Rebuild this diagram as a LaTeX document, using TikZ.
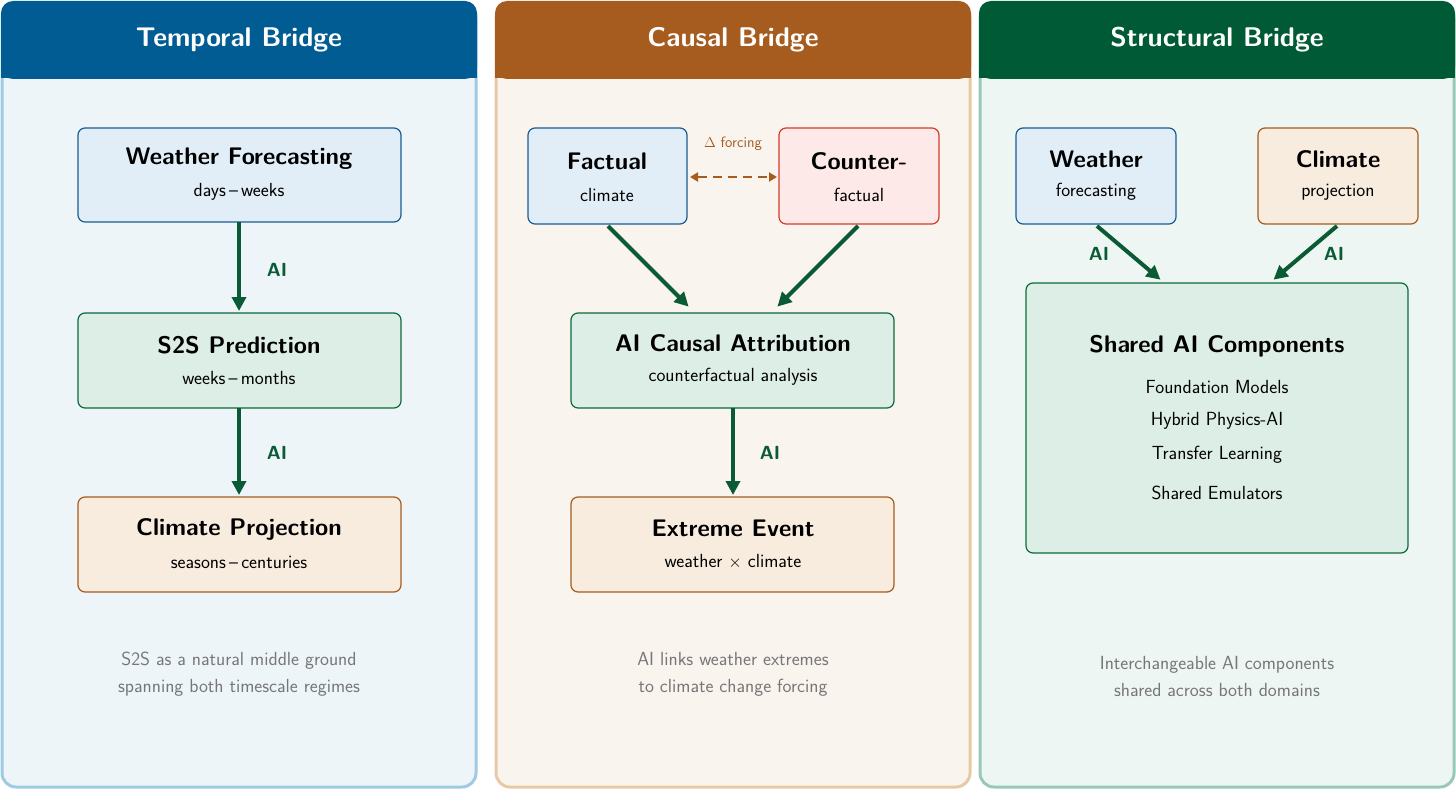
\documentclass[tikz,border=0pt]{standalone}
\usepackage{amsmath}
\usetikzlibrary{arrows.meta}
\definecolor{hb}{HTML}{005C92}\definecolor{hbr}{HTML}{A65C1E}\definecolor{hg}{HTML}{005A35}
\definecolor{pb}{HTML}{EEF5F9}\definecolor{pbb}{HTML}{9ECBE3}
\definecolor{pr}{HTML}{FAF4EF}\definecolor{prb}{HTML}{E8C9A5}
\definecolor{pg}{HTML}{EEF6F3}\definecolor{pgb}{HTML}{99C9B5}
\definecolor{fb}{HTML}{E1EEF7}\definecolor{bb}{HTML}{1A5C92}
\definecolor{fg}{HTML}{DDEEE7}\definecolor{bg}{HTML}{0A6B3A}
\definecolor{fo}{HTML}{F8ECDF}\definecolor{bo}{HTML}{A65C1E}
\definecolor{fr}{HTML}{FDE9E8}\definecolor{br}{HTML}{D63A2A}
\definecolor{ar}{HTML}{0A5A35}\definecolor{cap}{HTML}{777777}
\tikzset{
 panel/.style={rounded corners=14pt,line width=3pt},
 box/.style={rounded corners=7pt,line width=1.2pt,inner sep=0pt},
 ttl/.style={font=\sffamily\bfseries\fontsize{24}{28}\selectfont,align=center},
 sub/.style={font=\sffamily\fontsize{19}{24}\selectfont,align=center},
 capt/.style={font=\sffamily\fontsize{19}{27}\selectfont,text=cap,align=center},
 hdr/.style={font=\sffamily\bfseries\fontsize{27}{30}\selectfont,text=white},
 flow/.style={-{Triangle[length=14pt,width=14pt]},line width=4pt,draw=ar,shorten >=2pt},
 ai/.style={font=\sffamily\bfseries\fontsize{19}{22}\selectfont,text=ar}
}
\begin{document}
\begin{tikzpicture}[x=1pt,y=-1pt]
\useasboundingbox (0,0) rectangle (1456,789);
% panels
\foreach \x/\f/\b/\h in {2/pb/pbb/hb,496/pr/prb/hbr,980/pg/pgb/hg}{
 \draw[panel,fill=\f,draw=\b] (\x,4) rectangle ++(474,783);
 \fill[\h,rounded corners=12pt] (\x-1,1) rectangle ++(476,78);
 \fill[\h] (\x-1,50) rectangle ++(476,28);
}
\node[hdr] (h1) at (239,40) {Temporal Bridge};
\node[hdr] (h2) at (733,40) {Causal Bridge};
\node[hdr] (h3) at (1217,40) {Structural Bridge};
% panel 1
\draw[box,fill=fb,draw=bb] (78,128) rectangle (401,222);
\node[ttl] (wf) at (239,159) {Weather Forecasting};
\node[sub] at (239,192) {days\,--\,weeks};
\coordinate (wfb) at (239,222);
\draw[box,fill=fg,draw=bg] (78,313) rectangle (401,408);
\node[ttl] at (239,345) {S2S Prediction};
\node[sub] at (239,378) {weeks\,--\,months};
\coordinate (s2t) at (239,313); \coordinate (s2b) at (239,408);
\draw[box,fill=fo,draw=bo] (78,497) rectangle (401,592);
\node[ttl] at (239,529) {Climate Projection};
\node[sub] at (239,562) {seasons\,--\,centuries};
\coordinate (cpt) at (239,497);
\draw[flow] (wfb) -- (s2t);
\draw[flow] (s2b) -- (cpt);
\node[ai] at (277,270) {AI};
\node[ai] at (277,453) {AI};
\node[capt] at (239,674) {S2S as a natural middle ground\\spanning both timescale regimes};
% panel 2
\draw[box,fill=fb,draw=bb] (528,128) rectangle (687,224);
\node[ttl] at (607,161) {Factual};
\node[sub] at (607,195) {climate};
\draw[box,fill=fr,draw=br] (779,128) rectangle (939,224);
\node[ttl] at (859,161) {Counter-};
\node[sub] at (859,195) {factual};
\coordinate (fr) at (690,177); \coordinate (cl) at (777,177);
\draw[dashed,line width=2.5pt,draw=bo,dash pattern=on 9pt off 6pt,{Triangle[length=8pt,width=9pt]}-{Triangle[length=8pt,width=9pt]}] (fr) -- (cl);
\node[font=\sffamily\fontsize{15}{18}\selectfont,text=bo] at (733,144) {$\Delta$ forcing};
\draw[box,fill=fg,draw=bg] (571,313) rectangle (894,408);
\node[ttl] at (733,343) {AI Causal Attribution};
\node[sub] at (733,377) {counterfactual analysis};
\draw[box,fill=fo,draw=bo] (571,497) rectangle (894,592);
\node[ttl] at (733,528) {Extreme Event};
\node[sub] at (733,562) {weather $\times$ climate};
\coordinate (fb1) at (608,226); \coordinate (at1) at (690,308);
\coordinate (cb1) at (858,226); \coordinate (at2) at (776,308);
\coordinate (ab) at (733,408); \coordinate (et) at (733,497);
\draw[flow] (fb1) -- (at1);
\draw[flow] (cb1) -- (at2);
\draw[flow] (ab) -- (et);
\node[ai] at (770,453) {AI};
\node[capt] at (733,674) {AI links weather extremes\\to climate change forcing};
% panel 3
\draw[box,fill=fb,draw=bb] (1016,128) rectangle (1176,224);
\node[ttl] at (1096,159) {Weather};
\node[sub] at (1096,192) {forecasting};
\draw[box,fill=fo,draw=bo] (1258,128) rectangle (1418,224);
\node[ttl] at (1338,159) {Climate};
\node[sub] at (1338,192) {projection};
\draw[box,fill=fg,draw=bg] (1026,283) rectangle (1408,553);
\node[ttl] at (1217,346) {Shared AI Components};
\node[sub] at (1217,387) {Foundation Models};
\node[sub] at (1217,421) {Hybrid Physics-AI};
\node[sub] at (1217,455) {Transfer Learning};
\node[sub] at (1217,493) {Shared Emulators};
\coordinate (w3) at (1097,226); \coordinate (s1) at (1162,281);
\coordinate (c3) at (1337,226); \coordinate (s2) at (1272,281);
\draw[flow] (w3) -- (s1);
\draw[flow] (c3) -- (s2);
\node[ai] at (1099,254) {AI};
\node[ai] at (1334,254) {AI};
\node[capt] at (1217,676) {Interchangeable AI components\\shared across both domains};
\end{tikzpicture}
\end{document}
